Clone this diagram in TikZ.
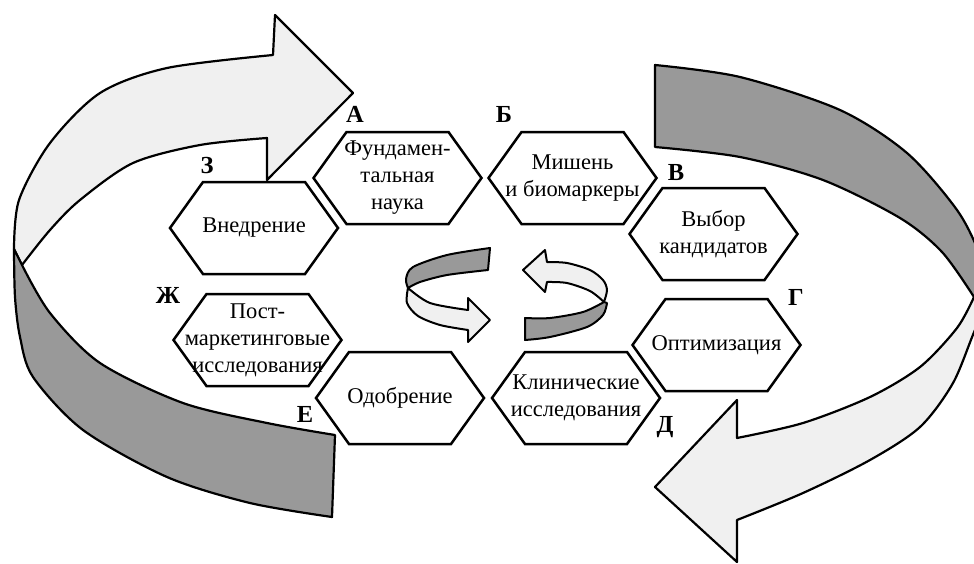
\documentclass[tikz,border=0pt]{standalone}
\usepackage{fontspec}
\setmainfont{Liberation Serif}
\usetikzlibrary{backgrounds}
\definecolor{ribdark}{RGB}{153,153,153}
\definecolor{riblight}{RGB}{240,240,240}
\begin{document}
\begin{tikzpicture}[x=1pt,y=-1pt,
  rib/.style={draw=black,line width=2.2pt,line join=round},
  darkrib/.style={rib,fill=ribdark},
  lightrib/.style={rib,fill=riblight},
  hexline/.style={draw=black,line width=2.5pt,fill=white,line join=miter},
  txt/.style={align=center,inner sep=0pt,font=\fontsize{22.5}{27}\selectfont},
  lbl/.style={inner sep=0pt,font=\fontsize{24.5}{26}\selectfont\bfseries}]
\useasboundingbox (0,0) rectangle (974,563);
% ---- stage nodes ----
\node[txt] (a)  at (397.5,178) {Фундамен-\\тальная\\наука};
\node[txt] (b)  at (572.5,178) {Мишень\\и биомаркеры};
\node[txt] (v)  at (713.5,234) {Выбор\\кандидатов};
\node[txt] (g)  at (716.5,345) {Оптимизация};
\node[txt] (d)  at (576,398)   {Клинические\\исследования};
\node[txt] (e)  at (400,398)   {Одобрение};
\node[txt] (zh) at (257.5,340) {Пост-\\маркетинговые\\исследования};
\node[txt] (z)  at (254,228)   {Внедрение};
% ---- letters ----
\node[lbl] (la)  at (355,114) {А};
\node[lbl] (lb)  at (504,114) {Б};
\node[lbl] (lv)  at (676,173) {В};
\node[lbl] (lg)  at (796,297) {Г};
\node[lbl] (ld)  at (665,427) {Д};
\node[lbl] (le)  at (305,414) {Е};
\node[lbl] (lzh) at (168,295) {Ж};
\node[lbl] (lz)  at (207,166) {З};
\begin{scope}[on background layer]
\fill[white] (0,0) rectangle (974,563);
\begin{scope}
\clip (0,0) rectangle (974,563);
% ---- left big arrow ----
\filldraw[lightrib] (14,249) -- plot[smooth] coordinates {(14,249) (19,200) (50,143) (100,93) (167,68) (273,55)}
  -- (275,15) -- (353,93) -- (267,180) -- (267,138)
  -- plot[smooth] coordinates {(267,138) (200,145) (133,163) (80,200) (50,230) (22,265)} -- cycle;
\filldraw[darkrib] (14,249) -- plot[smooth] coordinates {(14,249) (15,297) (20,337) (33,377) (83,430) (167,477) (250,503) (332,517)}
  -- (335,435)
  -- plot[smooth] coordinates {(335,435) (267,423) (183,403) (100,363) (50,313) (22,265)} -- cycle;
% ---- right big arrow ----
\filldraw[darkrib] (655,147) -- (655,65)
  -- plot[smooth] coordinates {(655,65) (740,77) (840,110) (907,153) (957,210) (980,255) (992,297)}
  -- (974,297)
  -- plot[smooth] coordinates {(974,297) (942,252) (900,218) (823,180) (740,157) (655,147)} -- cycle;
\filldraw[lightrib] (974,297)
  -- plot[smooth] coordinates {(974,297) (957,328) (920,367) (870,397) (803,423) (737,438)}
  -- (737,400) -- (655,487) -- (737,562) -- (737,520)
  -- plot[smooth] coordinates {(737,520) (803,493) (870,460) (920,427) (953,383) (975,330) (992,297)} -- cycle;
\end{scope}
% ---- small centre arrows ----
\filldraw[darkrib,line width=2pt] (408,288)
  -- plot[smooth] coordinates {(408,288) (406,279) (413,267) (447,255) (490,248)}
  -- (488,270)
  -- plot[smooth] coordinates {(488,270) (447,275) (420,282) (408,288)} -- cycle;
\filldraw[lightrib,line width=2pt] (408,288)
  -- plot[smooth] coordinates {(408,288) (407,303) (418,316) (440,325) (468,330)}
  -- (468,342) -- (490,320) -- (468,298) -- (468,310)
  -- plot[smooth] coordinates {(468,310) (430,303) (408,288)} -- cycle;
\filldraw[lightrib,line width=2pt] (547,262) -- (545,250) -- (523,270) -- (545,292) -- (547,282)
  -- plot[smooth] coordinates {(547,282) (567,283) (590,291) (604,302)}
  -- plot[smooth] coordinates {(604,302) (607,290) (603,280) (590,270) (567,263) (547,262)} -- cycle;
\filldraw[darkrib,line width=2pt] (604,302)
  -- plot[smooth] coordinates {(604,302) (583,312) (550,318) (525,318)}
  -- (525,340)
  -- plot[smooth] coordinates {(525,340) (550,337) (587,327) (603,315) (607,303)} -- cycle;
% ---- hexagons around the stage nodes ----
\foreach \n in {a,b,v,g,d,e,zh,z}
  \draw[hexline] ([xshift=-84pt]\n.center) -- ++(33,-46) -- ++(102,0) -- ++(33,46) -- ++(-33,46) -- ++(-102,0) -- cycle;
\end{scope}
\end{tikzpicture}
\end{document}
